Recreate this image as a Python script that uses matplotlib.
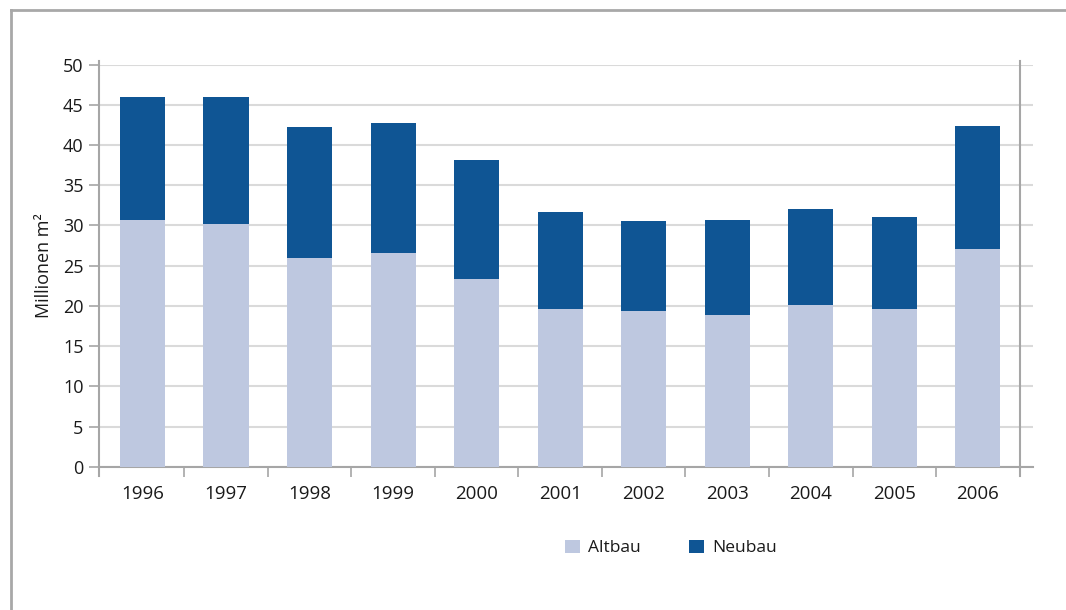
import numpy as np
import matplotlib
matplotlib.use("Agg")
import matplotlib.pyplot as plt
from matplotlib.lines import Line2D

plt.rcParams["font.family"] = ["Open Sans", "DejaVu Sans"]

years = ["1996", "1997", "1998", "1999", "2000", "2001",
         "2002", "2003", "2004", "2005", "2006"]
altbau = [30.7, 30.2, 26.0, 26.6, 23.4, 19.6, 19.4, 18.9, 20.1, 19.6, 27.1]
gesamt = [46.0, 46.0, 42.3, 42.7, 38.2, 31.7, 30.6, 30.7, 32.1, 31.0, 42.4]
neubau = [g - a for g, a in zip(gesamt, altbau)]

c_alt = "#bec8e0"
c_neu = "#0f5594"
c_axis = "#a6a6a6"
c_grid = "#dadada"
c_text = "#1a1a1a"

fig = plt.figure(figsize=(10.66, 6.10), dpi=100)
ax = fig.add_axes([99 / 1066, 1 - 466.7 / 610, 934 / 1066, 402 / 610])

x = np.arange(len(years))
ax.bar(x, altbau, width=0.54, color=c_alt, label="Altbau", zorder=3)
ax.bar(x, neubau, width=0.54, bottom=altbau, color=c_neu, label="Neubau", zorder=3)

ax.set_xlim(-0.52, 10.66)
ax.set_ylim(0, 50)
ax.set_yticks(np.arange(0, 51, 5))
ax.yaxis.grid(True, color=c_grid, linewidth=1.5, zorder=0)
ax.set_axisbelow(True)

# frame of the plot area
ax.spines["top"].set_visible(False)
ax.spines["left"].set_color(c_axis)
ax.spines["left"].set_linewidth(1.5)
ax.spines["left"].set_bounds(-1.1, 50.5)
ax.spines["right"].set_position(("data", 10.5))
ax.spines["right"].set_color(c_axis)
ax.spines["right"].set_linewidth(1.5)
ax.spines["right"].set_bounds(-1.1, 50.5)
ax.spines["bottom"].set_color(c_axis)
ax.spines["bottom"].set_linewidth(1.5)
ax.tick_params(axis="y", length=7.2, width=1.2, color=c_axis, pad=4,
               labelsize=13, labelcolor=c_text)

# x axis: labels in the middle, ticks between categories
ax.set_xticks(x)
ax.set_xticklabels(years)
ax.set_xticks(np.arange(0.5, 10.6, 1), minor=True)
ax.tick_params(axis="x", which="major", length=0, pad=13,
               labelsize=13.5, labelcolor=c_text)
ax.tick_params(axis="x", which="minor", length=7.2, width=1.2,
               color=c_axis, direction="out")

ax.set_ylabel("Millionen m²", fontsize=13, color=c_text, labelpad=7)

fig.legend(loc="center", bbox_to_anchor=(671 / 1066, 1 - 548 / 610),
           ncol=2, frameon=False, fontsize=12.5, handlelength=0.85,
           handleheight=0.85, handletextpad=0.45, columnspacing=2.8,
           labelcolor=c_text)

# outer frame lines
fig.add_artist(Line2D([11 / 1066, 1.0], [1 - 10 / 610, 1 - 10 / 610],
                      color="#a8a8a8", linewidth=2))
fig.add_artist(Line2D([11 / 1066, 11 / 1066], [0.0, 1 - 10 / 610],
                      color="#a8a8a8", linewidth=2))

fig.savefig("out.png", dpi=100)
